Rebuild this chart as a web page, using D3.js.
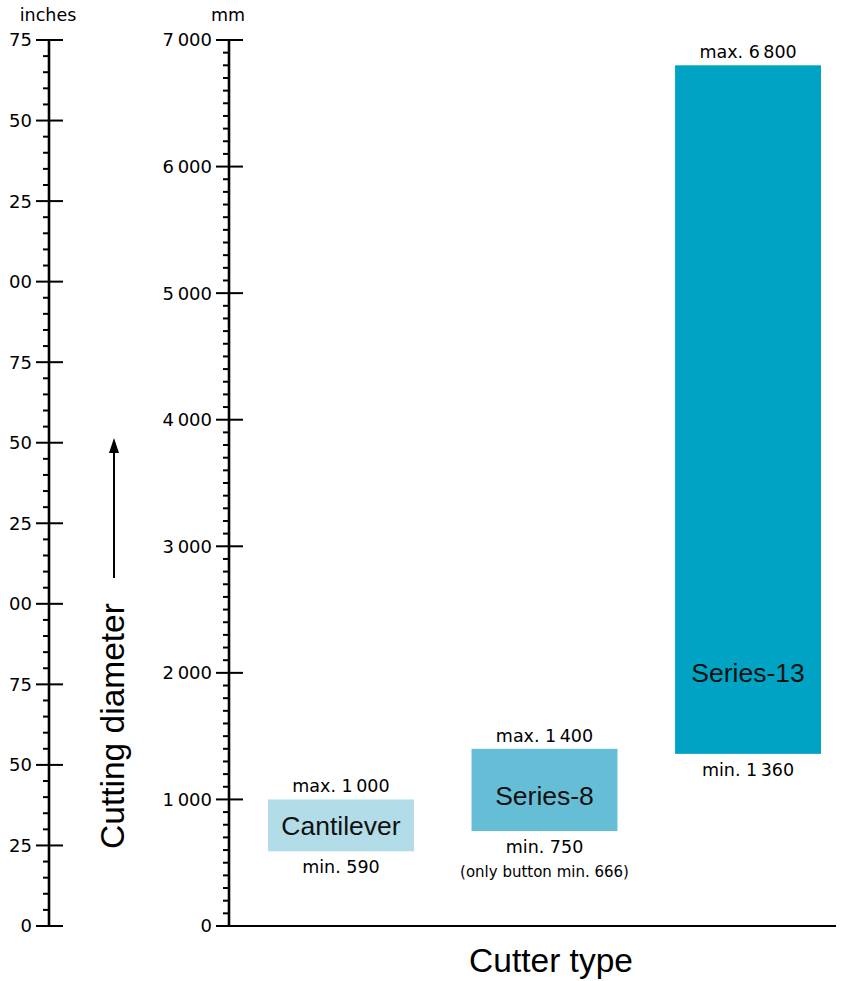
<!DOCTYPE html>
<html>
<head>
<meta charset="utf-8">
<script src="https://cdn.jsdelivr.net/npm/d3@7"></script>
<style>
  html, body { margin: 0; padding: 0; background: #fff; }
  svg { display: block; }
</style>
</head>
<body>
<svg id="chart" width="843" height="981"></svg>
<script>
// ---- data ----
const categories = ["Cantilever", "Series-8", "Series-13"];
const minValues = [590, 750, 1360];
const maxValues = [1000, 1400, 6800];
const notes = ["", "(only button min. 666)", ""];
const nameLevels = [795, 1035, 2000]; // mm level where the name sits
const barColors = ["#b2dce8", "#65bdd6", "#00a3c4"];
const mmTicks = [0, 1000, 2000, 3000, 4000, 5000, 6000, 7000];
const inchTicks = [0, 25, 50, 75, 100, 125, 150, 175, 200, 225, 250, 275];
const inchTickLabels = ["0", "25", "50", "75", "00", "25", "50", "75", "00", "25", "50", "75"];
const mmDomain = [0, 7000];
const inchDomain = [0, 275];

// ---- setup ----
const svg = d3.select("#chart");
const numFont = "'DejaVu Sans', sans-serif";
const nameFont = "'Liberation Sans', Arial, sans-serif";
const fmt = v => d3.format(",")(v).replace(/,/g, "\u2009");

const yBottom = 926, yTop = 40;
const yMm = d3.scaleLinear().domain(mmDomain).range([yBottom, yTop]);
const yIn = d3.scaleLinear().domain(inchDomain).range([yBottom, yTop]);
const x = d3.scaleBand().domain(categories).range([240, 849])
  .paddingInner(0.283).paddingOuter(0.1376);

const mmX = 229, inX = 49;

function drawAxis(xPos, scale, majors, labels, minorStep, unit) {
  const g = svg.append("g");
  const [d0, d1] = scale.domain();
  const minors = d3.range(d0, d1 + 1e-9, minorStep).filter(v => !majors.includes(v));
  g.selectAll(".minor").data(minors).join("line")
    .attr("x1", xPos - 6).attr("x2", xPos)
    .attr("y1", d => scale(d)).attr("y2", d => scale(d))
    .attr("stroke", "#000").attr("stroke-width", 2);
  g.append("line")
    .attr("x1", xPos).attr("x2", xPos)
    .attr("y1", scale(d0) + 1).attr("y2", scale(d1) - 1)
    .attr("stroke", "#000").attr("stroke-width", 2.6);
  g.selectAll(".major").data(majors).join("line")
    .attr("x1", xPos - 13).attr("x2", xPos + 14)
    .attr("y1", d => scale(d)).attr("y2", d => scale(d))
    .attr("stroke", "#000").attr("stroke-width", 2);
  g.selectAll(".lab").data(majors).join("text")
    .attr("x", xPos - 17).attr("y", d => scale(d))
    .attr("dy", "0.36em")
    .attr("text-anchor", "end")
    .attr("font-family", numFont).attr("font-size", 18)
    .text((d, i) => labels[i]);
  g.append("text")
    .attr("x", xPos - 1).attr("y", 21)
    .attr("text-anchor", "middle")
    .attr("font-family", numFont).attr("font-size", 17.5)
    .text(unit);
}

drawAxis(inX, yIn, inchTicks, inchTickLabels, 5, "inches");
drawAxis(mmX, yMm, mmTicks, mmTicks.map(fmt), 100, "mm");

// x baseline
svg.append("line")
  .attr("x1", mmX).attr("x2", 836)
  .attr("y1", yBottom).attr("y2", yBottom)
  .attr("stroke", "#000").attr("stroke-width", 2);

// bars
const rows = categories.map((c, i) => ({
  c, min: minValues[i], max: maxValues[i], note: notes[i], lvl: nameLevels[i], color: barColors[i]
}));
const bars = svg.append("g");
bars.selectAll("rect").data(rows).join("rect")
  .attr("x", d => x(d.c)).attr("width", x.bandwidth())
  .attr("y", d => yMm(d.max)).attr("height", d => yMm(d.min) - yMm(d.max))
  .attr("fill", d => d.color);

bars.selectAll(".maxl").data(rows).join("text")
  .attr("x", d => x(d.c) + x.bandwidth() / 2).attr("y", d => yMm(d.max) - 7)
  .attr("text-anchor", "middle")
  .attr("font-family", numFont).attr("font-size", 17.5)
  .text(d => "max. " + fmt(d.max));

bars.selectAll(".minl").data(rows).join("text")
  .attr("x", d => x(d.c) + x.bandwidth() / 2).attr("y", d => yMm(d.min) + 22)
  .attr("text-anchor", "middle")
  .attr("font-family", numFont).attr("font-size", 17.5)
  .text(d => "min. " + fmt(d.min));

bars.selectAll(".note").data(rows.filter(d => d.note)).join("text")
  .attr("x", d => x(d.c) + x.bandwidth() / 2).attr("y", d => yMm(d.min) + 46)
  .attr("text-anchor", "middle")
  .attr("font-family", numFont).attr("font-size", 15)
  .text(d => d.note);

bars.selectAll(".name").data(rows).join("text")
  .attr("x", d => x(d.c) + x.bandwidth() / 2).attr("y", d => yMm(d.lvl))
  .attr("dy", "0.36em")
  .attr("text-anchor", "middle")
  .attr("font-family", nameFont).attr("font-size", 26.5)
  .attr("fill", "#111")
  .text(d => d.c);

// axis titles
svg.append("text")
  .attr("x", 551).attr("y", 972)
  .attr("text-anchor", "middle")
  .attr("font-family", nameFont).attr("font-size", 33.5)
  .text("Cutter type");

svg.append("text")
  .attr("transform", "translate(124,726) rotate(-90)")
  .attr("text-anchor", "middle")
  .attr("font-family", nameFont).attr("font-size", 33.5)
  .text("Cutting diameter");

// arrow
svg.append("line")
  .attr("x1", 114).attr("x2", 114)
  .attr("y1", 578).attr("y2", 450)
  .attr("stroke", "#000").attr("stroke-width", 2);
svg.append("path")
  .attr("d", "M114,438 L109,453 L119,453 Z")
  .attr("fill", "#000");
</script>
</body>
</html>
